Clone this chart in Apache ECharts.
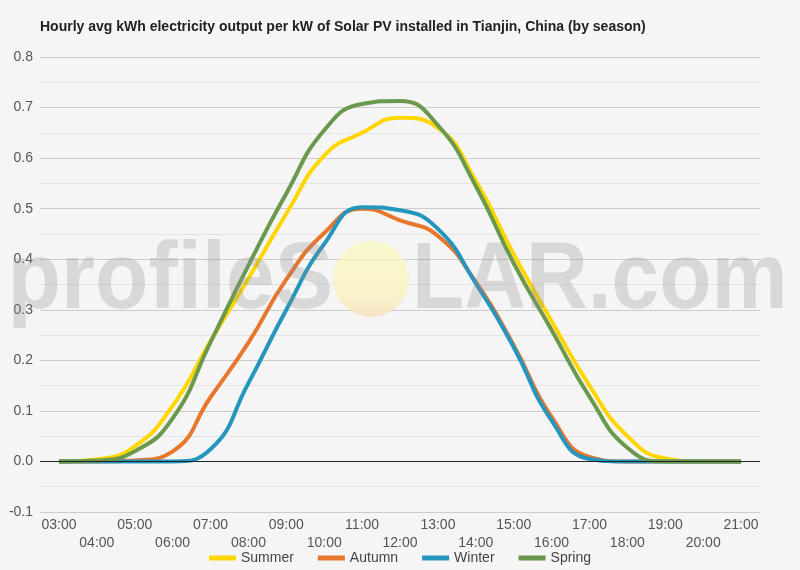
<!DOCTYPE html>
<html>
<head>
<meta charset="utf-8">
<script src="https://cdn.jsdelivr.net/npm/echarts@6/dist/echarts.min.js"></script>
<style>
	html, body { margin: 0; padding: 0; background: #f5f5f5; }
	#main { width: 800px; height: 570px; }
</style>
</head>
<body>
<div id="main"></div>
<script>
// hourly values (kWh per kW)
var hours = ['03:00', '04:00', '05:00', '06:00', '07:00', '08:00', '09:00', '10:00', '11:00', '12:00',
	'13:00', '14:00', '15:00', '16:00', '17:00', '18:00', '19:00', '20:00', '21:00'];
var summer = [0, 0.004, 0.03, 0.11, 0.238, 0.362, 0.49, 0.605, 0.65, 0.68, 0.66, 0.555, 0.41, 0.278, 0.15, 0.05, 0.006, 0, 0];
var autumn = [0, 0, 0.002, 0.02, 0.127, 0.235, 0.36, 0.452, 0.5, 0.477, 0.446, 0.355, 0.23, 0.088, 0.009, 0, 0, 0, 0];
var winter = [0, 0, 0, 0, 0.024, 0.155, 0.30, 0.43, 0.503, 0.497, 0.46, 0.352, 0.226, 0.081, 0.005, 0, 0, 0, 0];
var spring = [0, 0.002, 0.02, 0.085, 0.236, 0.388, 0.53, 0.655, 0.707, 0.713, 0.665, 0.545, 0.392, 0.26, 0.128, 0.027, 0, 0, 0];
var seasonNames = ['Summer', 'Autumn', 'Winter', 'Spring'];
var seasonColors = ['#ffd700', '#e8772e', '#2596be', '#6a994e'];

var myChart = echarts.init(document.getElementById('main'));

function makeSeries(name, data, color, withZero) {
	var s = {
		name: name,
		type: 'line',
		data: data,
		smooth: true,
		symbol: 'none',
		lineStyle: { width: 4, color: color },
		itemStyle: { color: color }
	};
	// black zero line
	if (withZero) {
		s.markLine = {
			silent: true,
			symbol: 'none',
			label: { show: false },
			lineStyle: { color: '#222', width: 1, type: 'solid' },
			data: [{ yAxis: 0 }]
		};
	}
	return s;
}

var wmFont = 'bold 94px "Liberation Sans", Arial, sans-serif';
var wmColor = 'rgba(140,140,140,0.28)';

var option = {
	backgroundColor: '#f5f5f5',
	animation: false,
	textStyle: { fontFamily: 'Liberation Sans, Arial, sans-serif' },
	title: {
		text: 'Hourly avg kWh electricity output per kW of Solar PV installed in Tianjin, China (by season)',
		left: 40,
		top: 20,
		padding: 0,
		textStyle: { fontSize: 14, fontWeight: 'bold', color: '#222' }
	},
	legend: {
		bottom: 5,
		left: 'center',
		padding: 0,
		itemWidth: 27,
		itemHeight: 5,
		itemGap: 24,
		icon: 'rect',
		textStyle: { fontSize: 14, color: '#444' },
		data: seasonNames
	},
	grid: { left: 40, right: 40, top: 57, bottom: 58 },
	xAxis: {
		type: 'category',
		data: hours,
		boundaryGap: true,
		axisLine: { show: false },
		axisTick: { show: false },
		axisLabel: {
			interval: 0,
			margin: 4,
			fontSize: 14,
			color: '#555',
			lineHeight: 18,
			formatter: function (v, i) { return i % 2 ? '\n' + v : v; }
		}
	},
	yAxis: {
		type: 'value',
		min: -0.1,
		max: 0.8,
		interval: 0.1,
		axisLabel: {
			fontSize: 14,
			color: '#555',
			margin: 7,
			formatter: function (v) { return v.toFixed(1); }
		},
		splitLine: { lineStyle: { color: '#cccccc' } },
		minorTick: { show: false, splitNumber: 2 },
		minorSplitLine: { show: true, lineStyle: { color: '#e4e4e4' } }
	},
	graphic: [
		{
			type: 'circle',
			z: 100,
			shape: { cx: 371, cy: 279, r: 38 },
			style: {
				fill: new echarts.graphic.LinearGradient(0, 0, 0, 1, [
					{ offset: 0, color: 'rgba(250,248,190,0.75)' },
					{ offset: 0.7, color: 'rgba(250,243,190,0.75)' },
					{ offset: 1, color: 'rgba(248,222,180,0.75)' }
				])
			}
		},
		{
			type: 'text',
			z: 100,
			x: 333,
			y: 282,
			scaleX: 0.93,
			style: {
				text: 'profileS',
				align: 'right',
				verticalAlign: 'middle',
				font: wmFont,
				fill: wmColor
			}
		},
		{
			type: 'text',
			z: 100,
			x: 412,
			y: 282,
			scaleX: 0.91,
			style: {
				text: 'LAR.com',
				align: 'left',
				verticalAlign: 'middle',
				font: wmFont,
				fill: wmColor
			}
		}
	],
	series: [
		makeSeries(seasonNames[0], summer, seasonColors[0], true),
		makeSeries(seasonNames[1], autumn, seasonColors[1], false),
		makeSeries(seasonNames[2], winter, seasonColors[2], false),
		makeSeries(seasonNames[3], spring, seasonColors[3], false)
	]
};
myChart.setOption(option);
</script>
</body>
</html>
